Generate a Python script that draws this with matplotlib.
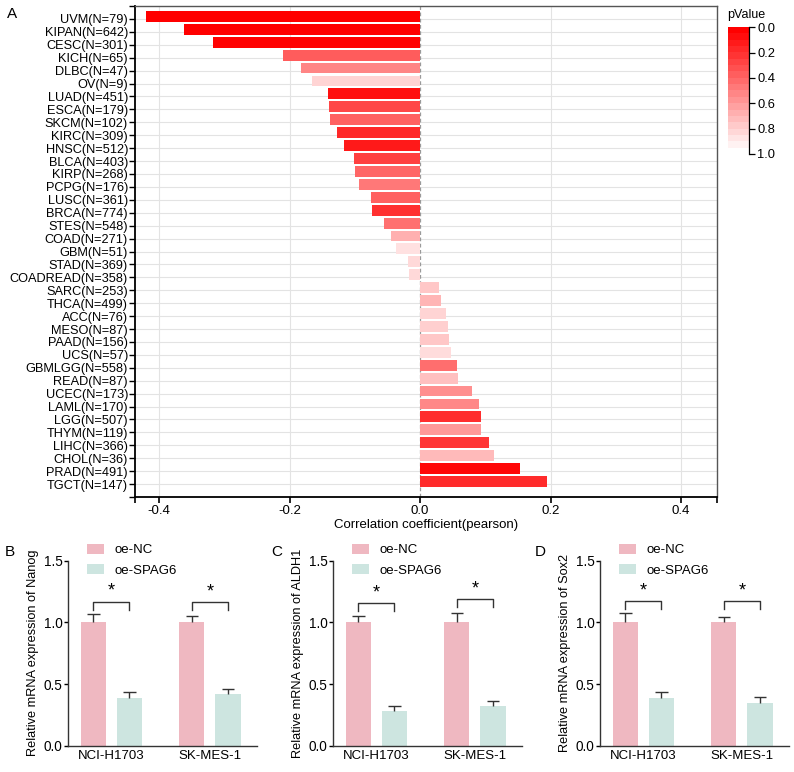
import numpy as np
import matplotlib
matplotlib.use("Agg")
import matplotlib.pyplot as plt
from matplotlib.colors import LinearSegmentedColormap, Normalize

plt.rcParams['font.family'] = ['Liberation Sans', 'DejaVu Sans']

# ---------------- Data: panel A ----------------
cancers = ["UVM(N=79)", "KIPAN(N=642)", "CESC(N=301)", "KICH(N=65)", "DLBC(N=47)", "OV(N=9)",
           "LUAD(N=451)", "ESCA(N=179)", "SKCM(N=102)", "KIRC(N=309)", "HNSC(N=512)", "BLCA(N=403)",
           "KIRP(N=268)", "PCPG(N=176)", "LUSC(N=361)", "BRCA(N=774)", "STES(N=548)", "COAD(N=271)",
           "GBM(N=51)", "STAD(N=369)", "COADREAD(N=358)", "SARC(N=253)", "THCA(N=499)", "ACC(N=76)",
           "MESO(N=87)", "PAAD(N=156)", "UCS(N=57)", "GBMLGG(N=558)", "READ(N=87)", "UCEC(N=173)",
           "LAML(N=170)", "LGG(N=507)", "THYM(N=119)", "LIHC(N=366)", "CHOL(N=36)", "PRAD(N=491)",
           "TGCT(N=147)"]
corr = [-0.420, -0.361, -0.318, -0.210, -0.182, -0.166,
        -0.141, -0.140, -0.138, -0.128, -0.117, -0.101,
        -0.099, -0.093, -0.075, -0.073, -0.055, -0.044,
        -0.037, -0.018, -0.017, 0.029, 0.032, 0.039,
        0.043, 0.045, 0.048, 0.056, 0.058, 0.080,
        0.090, 0.094, 0.094, 0.105, 0.113, 0.153,
        0.194]
pvals = [0.0, 0.0, 0.01, 0.36, 0.52, 0.83,
         0.06, 0.28, 0.38, 0.16, 0.10, 0.25,
         0.40, 0.47, 0.38, 0.19, 0.44, 0.69,
         0.88, 0.85, 0.85, 0.78, 0.71, 0.83,
         0.81, 0.78, 0.86, 0.43, 0.75, 0.56,
         0.53, 0.18, 0.60, 0.21, 0.73, 0.03,
         0.17]

# ---------------- Data: panels B-D ----------------
cell_lines = ["NCI-H1703", "SK-MES-1"]
groups = ["oe-NC", "oe-SPAG6"]
genes = ["Nanog", "ALDH1", "Sox2"]
panel_letters = ["B", "C", "D"]
nc_mean = {"Nanog": [1.0, 1.0], "ALDH1": [1.0, 1.0], "Sox2": [1.0, 1.0]}
nc_err = {"Nanog": [0.065, 0.05], "ALDH1": [0.05, 0.075], "Sox2": [0.075, 0.045]}
sp_mean = {"Nanog": [0.39, 0.42], "ALDH1": [0.28, 0.32], "Sox2": [0.39, 0.35]}
sp_err = {"Nanog": [0.045, 0.043], "ALDH1": [0.043, 0.045], "Sox2": [0.045, 0.045]}
bracket_y = {"Nanog": [1.168, 1.163], "ALDH1": [1.155, 1.187], "Sox2": [1.173, 1.173]}

W, H = 794, 772
fig = plt.figure(figsize=(W / 100, H / 100), dpi=100)

def fbox(l, t, r, b):
    return [l / W, 1 - b / H, (r - l) / W, (b - t) / H]

# ---------------- Panel A ----------------
cmap = LinearSegmentedColormap.from_list("rw", ["#FF0000", "#FFFFFF"])
norm = Normalize(0, 1)
axA = fig.add_axes(fbox(135, 6, 717, 497))
n = len(cancers)
ypos = np.arange(n)
axA.set_ylim(n, -1)
xmin, xmax = -0.4368, 0.455
axA.set_xlim(xmin, xmax)
for v in [-0.4, -0.2, 0.2, 0.4]:
    axA.axvline(v, color="#E3E3E3", lw=0.8, zorder=0)
for yy in np.arange(-1, n + 1):
    axA.axhline(yy, color="#E3E3E3", lw=0.8, zorder=0)
axA.axvline(0, color="#9A9A9A", lw=0.9, ls=(0, (3, 2)), zorder=1)
axA.barh(ypos - 0.2, corr, height=0.84, color=cmap(norm(pvals)), zorder=2)
axA.set_yticks(np.arange(-1, n + 1))
axA.set_yticklabels([""] + cancers + [""], fontsize=9.2)
axA.set_xticks([-0.4, -0.2, 0.0, 0.2, 0.4])
axA.set_xticks([xmin, xmax], minor=True)
axA.tick_params(axis="x", which="minor", length=4, width=1.2)
axA.set_xticklabels(["-0.4", "-0.2", "0.0", "0.2", "0.4"], fontsize=9.5)
axA.tick_params(axis="x", which="major", length=4, width=1.2, pad=2)
axA.tick_params(axis="y", length=4, width=1.0, pad=1)
axA.set_xlabel("Correlation coefficient(pearson)", fontsize=9.5, labelpad=1)
for s in ["left", "bottom"]:
    axA.spines[s].set_linewidth(1.3)
    axA.spines[s].set_color("black")
for s in ["top", "right"]:
    axA.spines[s].set_linewidth(1.0)
    axA.spines[s].set_color("#555555")
fig.text(12 / W, 1 - 14 / H, "A", fontsize=11, ha="center", va="center")

# colorbar
cax = fig.add_axes(fbox(728, 27.3, 749, 154))
grad = np.linspace(0, 1, 20).reshape(-1, 1)
cax.imshow(grad, cmap=cmap, norm=norm, aspect="auto", extent=[0, 1, 1, 0])
cax.set_xlim(0, 1)
cax.set_ylim(1, 0)
cax.set_xticks([])
cax.yaxis.tick_right()
cax.set_yticks([0, 0.2, 0.4, 0.6, 0.8, 1.0])
cax.set_yticklabels(["0.0", "0.2", "0.4", "0.6", "0.8", "1.0"], fontsize=9.3)
cax.tick_params(axis="y", length=4, width=0.9, pad=2)
for s in ["left", "top", "bottom"]:
    cax.spines[s].set_visible(False)
cax.spines["right"].set_linewidth(0.9)
fig.text(727 / W, 1 - 15 / H, "pValue", fontsize=9, ha="left", va="center")

# ---------------- Panels B-D ----------------
nc_color = "#EFB8C1"
sp_color = "#CDE5E0"
err_color = "#333333"
lefts = [68, 333, 600]
letter_x = [10, 277, 540]
gx = np.arange(len(cell_lines))
bw = 0.254
off = 0.183
cap = 0.065
for k, g in enumerate(genes):
    ax = fig.add_axes(fbox(lefts[k], 560.7, lefts[k] + 189, 745.7))
    ax.bar(gx - off, nc_mean[g], width=bw, color=nc_color, label=groups[0], zorder=2)
    ax.bar(gx + off, sp_mean[g], width=bw, color=sp_color, label=groups[1], zorder=2)
    for xs, m, e in [(gx - off, nc_mean[g], nc_err[g]), (gx + off, sp_mean[g], sp_err[g])]:
        m = np.asarray(m); e = np.asarray(e)
        ax.vlines(xs, m, m + e, color=err_color, lw=1.0, zorder=3)
        ax.hlines(m + e, xs - cap, xs + cap, color=err_color, lw=1.0, zorder=3)
    for i in range(len(cell_lines)):
        by = bracket_y[g][i]
        x1, x2 = gx[i] - off, gx[i] + off
        ax.plot([x1, x1, x2, x2], [by - 0.065, by, by, by - 0.065], color="#333333", lw=1.0)
        ax.text((x1 + x2) / 2, by + 0.015, "*", ha="center", va="bottom", fontsize=13)
    ax.set_xlim(-0.44, 1.477)
    ax.set_ylim(0, 1.5)
    ax.set_yticks([0, 0.5, 1.0, 1.5])
    ax.set_yticklabels(["0.0", "0.5", "1.0", "1.5"], fontsize=9.8)
    ax.set_xticks(gx)
    ax.set_xticklabels(cell_lines, fontsize=9.5)
    ax.tick_params(axis="x", length=0, pad=3)
    ax.tick_params(axis="y", length=3, width=1.0, pad=1)
    ax.set_ylabel("Relative mRNA expression of " + g, fontsize=9.2, labelpad=3)
    for s in ["top", "right"]:
        ax.spines[s].set_visible(False)
    for s in ["left", "bottom"]:
        ax.spines[s].set_linewidth(1.0)
        ax.spines[s].set_color("#333333")
    ax.legend(loc="upper left", bbox_to_anchor=(0.07, 1.12), frameon=False, fontsize=9.5,
              handlelength=1.3, handleheight=0.8, labelspacing=0.6, handletextpad=0.8,
              borderaxespad=0)
    fig.text(letter_x[k] / W, 1 - 552 / H, panel_letters[k], fontsize=11, ha="center", va="center")

fig.savefig("out.png", dpi=100)
